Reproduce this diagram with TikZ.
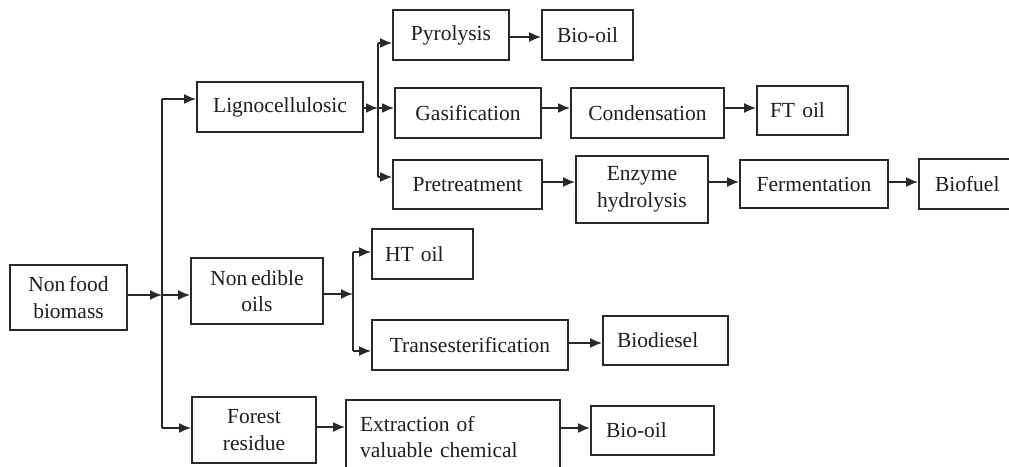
\documentclass[tikz,border=0pt]{standalone}
\usepackage{fontspec}
\setmainfont{Liberation Serif}[WordSpace=0.7]
\usetikzlibrary{arrows.meta}
\definecolor{linec}{RGB}{40,40,40}
\definecolor{textc}{RGB}{30,30,30}
\begin{document}
\begin{tikzpicture}[x=1pt,y=-1pt,
  box/.style={draw=linec, line width=1.8pt, fill=white, inner sep=0pt, text=textc,
    font=\fontsize{21.5}{26.5}\selectfont, align=center},
  lbox/.style={box, align=left},
  arr/.style={draw=linec, line width=1.8pt, -{Latex[length=12pt,width=10pt]}},
  ln/.style={draw=linec, line width=1.8pt}]
\useasboundingbox[fill=white] (0,0) rectangle (1009,466);

% boxes
\node[box, minimum width=117pt, minimum height=65pt] (nfb) at (68.5,297.5) {Non food\\biomass};
\node[box, minimum width=166pt, minimum height=50pt] (ligno) at (280,107) {Lignocellulosic};
\node[box, minimum width=132pt, minimum height=66pt] (neo) at (257,291) {Non edible\\oils};
\node[box, minimum width=124pt, minimum height=66pt] (forest) at (254,430) {Forest\\residue};

\node[box, minimum width=116pt, minimum height=50pt] (pyro) at (451,35) {Pyrolysis};
\node[box, minimum width=91pt, minimum height=50pt] (bio1) at (587.5,35) {Bio-oil};
\node[box, minimum width=146pt, minimum height=50pt] (gasif) at (468,113) {Gasification};
\node[box, minimum width=153pt, minimum height=50pt] (cond) at (647.5,113) {Condensation};
\node[lbox, inner xsep=13pt, text width=65pt, minimum height=49pt] (ftoil) at (802.5,110.5) {FT oil};
\node[box, minimum width=149pt, minimum height=49pt] (pret) at (467.5,184.5) {Pretreatment};
\node[box, minimum width=132pt, minimum height=67pt] (enz) at (642,189.5) {Enzyme\\hydrolysis};
\node[box, minimum width=148pt, minimum height=48pt] (ferm) at (814,184) {Fermentation};
\node[lbox, inner xsep=16pt, text width=62pt, minimum height=50pt] (biofuel) at (966,184) {Biofuel};

\node[lbox, inner xsep=13pt, text width=75pt, minimum height=50pt] (ht) at (422.5,254) {HT oil};
\node[box, minimum width=196pt, minimum height=50pt] (trans) at (470,345) {Transesterification};
\node[lbox, inner xsep=14pt, text width=97pt, minimum height=49pt] (biod) at (665.5,340.5) {Biodiesel};

\node[lbox, inner xsep=14pt, text width=186pt, minimum height=74pt] (extr) at (453,437) {Extraction of\\valuable chemical};
\node[lbox, inner xsep=15pt, text width=93pt, minimum height=49pt] (bio2) at (652.5,430.5) {Bio-oil};

% junction coordinates
\coordinate (tA) at (162,99);
\coordinate (tB) at (162,295);
\coordinate (tC) at (162,428);
\coordinate (bA) at (378,43);
\coordinate (bB) at (378,108);
\coordinate (bC) at (378,177);
\coordinate (cA) at (353,252);
\coordinate (cB) at (353,294);
\coordinate (cC) at (353,351);

% trunk
\draw[ln] (tA) -- (tC);
\draw[arr] (nfb.east |- tB) -- (tB);
\draw[arr] (tA) -- (ligno.west |- tA);
\draw[arr] (tB) -- (neo.west |- tB);
\draw[arr] (tC) -- (forest.west |- tC);

% lignocellulosic branch
\draw[arr] (ligno.east |- bB) -- (bB);
\draw[ln] (bA) -- (bC);
\draw[arr] (bA) -- (pyro.west |- bA);
\draw[arr] (bB) -- (gasif.west |- bB);
\draw[arr] (bC) -- (pret.west |- bC);
\draw[arr] (pyro.east |- 0,37) -- (bio1.west |- 0,37);
\draw[arr] (gasif.east |- bB) -- (cond.west |- bB);
\draw[arr] (cond.east |- bB) -- (ftoil.west |- bB);
\draw[arr] (pret.east |- 0,182) -- (enz.west |- 0,182);
\draw[arr] (enz.east |- 0,182) -- (ferm.west |- 0,182);
\draw[arr] (ferm.east |- 0,182) -- (biofuel.west |- 0,182);

% non edible oils branch
\draw[arr] (neo.east |- cB) -- (cB);
\draw[ln] (cA) -- (cC);
\draw[arr] (cA) -- (ht.west |- cA);
\draw[arr] (cC) -- (trans.west |- cC);
\draw[arr] (trans.east |- 0,343) -- (biod.west |- 0,343);

% forest residue
\draw[arr] (forest.east |- 0,427) -- (extr.west |- 0,427);
\draw[arr] (extr.east |- 0,428) -- (bio2.west |- 0,428);
\end{tikzpicture}
\end{document}
